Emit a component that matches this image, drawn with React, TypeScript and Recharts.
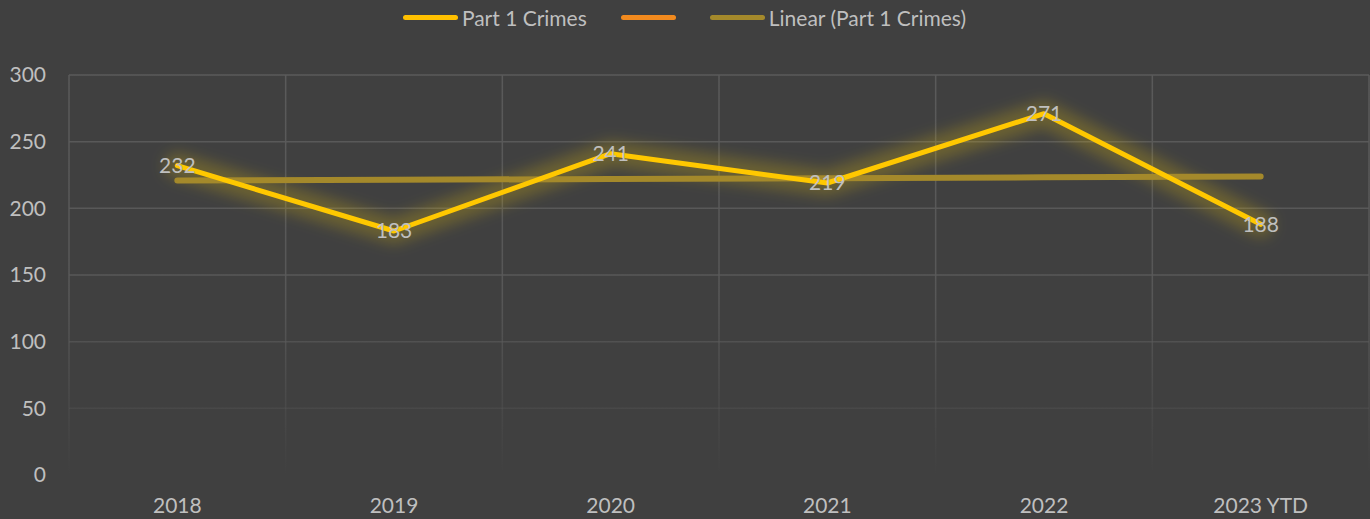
import React from 'react';
import { LineChart, Line, XAxis, YAxis, CartesianGrid, Legend, LabelList } from 'recharts';

const categories = ['2018', '2019', '2020', '2021', '2022', '2023 YTD'];
const crimes = [232, 183, 241, 219, 271, 188];
// linear trend at each category
const trend = [220.8, 221.4, 222.0, 222.6, 223.3, 223.9];
const yTicks = [0, 50, 100, 150, 200, 250, 300];

const legendItems = [
  { name: 'Part 1 Crimes', color: '#FFC000' },
  { name: '', color: '#F28A1E' },
  { name: 'Linear (Part 1 Crimes)', color: '#A4892B' },
];

const data = categories.map((year, i) => ({ year, crimes: crimes[i], trend: trend[i] }));

const FONT = 'Lato, "Open Sans", sans-serif';
const TEXT = '#bfbfbf';
const FS = 21;

const LegendBox = () => (
  <div style={{ display: 'flex', justifyContent: 'center', alignItems: 'center', fontFamily: FONT, fontSize: FS, color: TEXT }}>
    {legendItems.map((item, i) => (
      <div key={i} style={{ display: 'flex', alignItems: 'center', marginRight: i < legendItems.length - 1 ? 34 : 0 }}>
        <div style={{ width: 55, height: 5, borderRadius: 3, background: item.color, marginRight: item.name ? 4 : 0 }} />
        {item.name && <span>{item.name}</span>}
      </div>
    ))}
  </div>
);

const App: React.FC = () => {
  return (
    <div style={{ width: 1370, height: 519, background: '#404040' }}>
      <style>{'body{margin:0}'}</style>
      <LineChart width={1370} height={519} data={data} margin={{ top: 75, right: 1, left: 0, bottom: 0 }}>
        <defs>
          <linearGradient id="gridFade" gradientUnits="userSpaceOnUse" x1="0" y1="75" x2="0" y2="475">
            <stop offset="0%" stopColor="#5a5a5a" stopOpacity={1} />
            <stop offset="55%" stopColor="#5a5a5a" stopOpacity={0.9} />
            <stop offset="100%" stopColor="#5a5a5a" stopOpacity={0} />
          </linearGradient>
          <filter id="glow" x="-10%" y="-80%" width="120%" height="260%">
            <feGaussianBlur stdDeviation="7" />
          </filter>
        </defs>
        <CartesianGrid
          stroke="url(#gridFade)"
          strokeWidth={1.5}
          verticalCoordinatesGenerator={({ offset }: any) =>
            Array.from({ length: categories.length + 1 }, (_, i) => offset.left + (i * offset.width) / categories.length)
          }
        />
        <XAxis
          dataKey="year"
          scale="band"
          axisLine={false}
          tickLine={false}
          tickSize={0}
          tickMargin={23}
          height={44}
          interval={0}
          tick={{ fill: TEXT, fontSize: FS, fontFamily: FONT }}
        />
        <YAxis
          domain={[0, 300]}
          ticks={yTicks}
          axisLine={false}
          tickLine={false}
          tickSize={0}
          tickMargin={23}
          width={69}
          tick={{ fill: TEXT, fontSize: FS, fontFamily: FONT }}
        />
        <Legend verticalAlign="middle" align="center" wrapperStyle={{ top: 5 }} content={() => <LegendBox />} />
        <Line
          dataKey="crimes"
          stroke="#FFD000"
          strokeOpacity={0.22}
          strokeWidth={26}
          strokeLinejoin="round"
          strokeLinecap="round"
          filter="url(#glow)"
          dot={false}
          activeDot={false}
          legendType="none"
          isAnimationActive={false}
        />
        <Line
          dataKey="trend"
          stroke="#A4892B"
          strokeWidth={6}
          strokeLinecap="round"
          dot={false}
          activeDot={false}
          isAnimationActive={false}
        />
        <Line
          dataKey="crimes"
          stroke="#FFC800"
          strokeWidth={5}
          strokeLinejoin="round"
          strokeLinecap="round"
          dot={false}
          activeDot={false}
          isAnimationActive={false}
        >
          <LabelList dataKey="crimes" position="center" fill={TEXT} fontSize={FS} fontFamily={FONT} />
        </Line>
      </LineChart>
    </div>
  );
};

export default App;
